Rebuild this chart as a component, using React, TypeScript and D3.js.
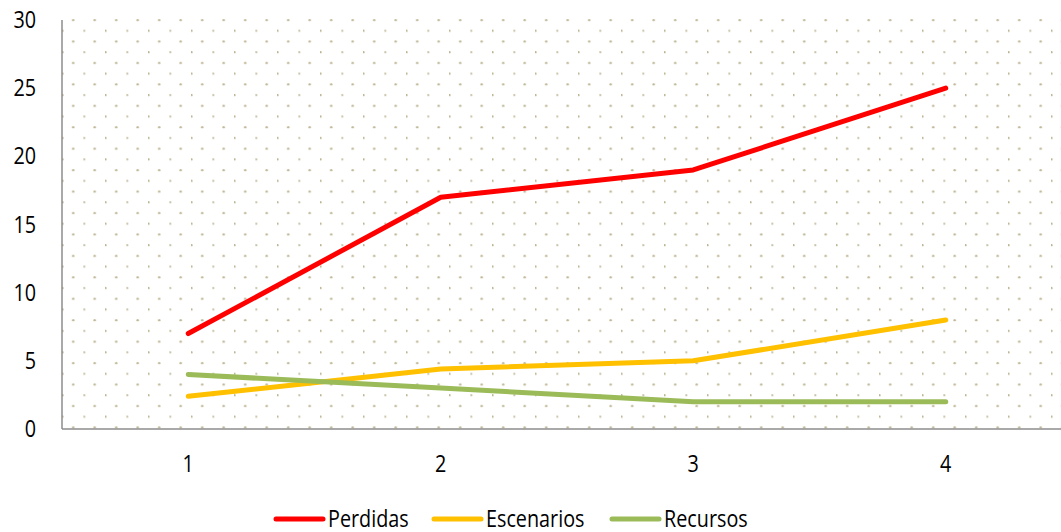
import React from "react";
import * as d3 from "d3";

const categories = ["1", "2", "3", "4"];
const perdidas = [7, 17, 19, 25];
const escenarios = [2.4, 4.4, 5, 8];
const recursos = [4, 3, 2, 2];
const yTicks = [0, 5, 10, 15, 20, 25, 30];
const seriesNames = ["Perdidas", "Escenarios", "Recursos"];
const seriesColors = ["#FF0000", "#FFC000", "#9BBB59"];

const font = "'Open Sans', sans-serif";
const FS = 23;
const SX = 0.86;

function Label(props: { x: number; y: number; anchor: string; children: React.ReactNode }) {
  const { x, y, anchor, children } = props;
  return (
    <text
      transform={`translate(${x},${y}) scale(${SX},1)`}
      dy="0.35em"
      textAnchor={anchor}
      fontFamily={font}
      fontSize={FS}
      fill="#000"
    >
      {children}
    </text>
  );
}

export default function App() {
  const W = 1061, H = 532;
  const left = 62, top = 20, bottom = 429, right = 1072;
  const x = d3.scaleBand().domain(categories).range([left, right]);
  const y = d3.scaleLinear().domain([0, 30]).range([bottom, top]);
  const line = d3
    .line<number>()
    .x((_, i) => (x(categories[i]) as number) + x.bandwidth() / 2)
    .y((d) => y(d));
  const series = [perdidas, escenarios, recursos];
  const legendX = [276, 434, 612];

  return (
    <svg width={W} height={H} style={{ position: "absolute", left: 0, top: 0, background: "#fff" }}>
      <defs>
        <pattern id="dots" x={62} y={15} width={21.5} height={21.44} patternUnits="userSpaceOnUse">
          <circle cx={11.2} cy={5} r={1.2} fill="#bdb592" />
          <circle cx={0.5} cy={15.72} r={1.2} fill="#bdb592" />
        </pattern>
      </defs>
      <rect x={left} y={top - 1} width={W - left} height={bottom - top + 1} fill="url(#dots)" />
      <line x1={left} x2={left} y1={top} y2={bottom} stroke="#8c8c8c" strokeWidth={1.5} />
      <line x1={left} x2={W} y1={bottom} y2={bottom} stroke="#8c8c8c" strokeWidth={1.5} />
      {yTicks.map((t) => (
        <Label key={t} x={36} y={y(t)} anchor="end">
          {t}
        </Label>
      ))}
      {categories.map((c) => (
        <Label key={c} x={(x(c) as number) + x.bandwidth() / 2} y={464} anchor="middle">
          {c}
        </Label>
      ))}
      {series.map((s, i) => (
        <path key={i} d={line(s) || ""} fill="none" stroke={seriesColors[i]} strokeWidth={5} strokeLinecap="round" strokeLinejoin="round" />
      ))}
      {seriesNames.map((n, i) => (
        <g key={n}>
          <line x1={legendX[i]} x2={legendX[i] + 47} y1={519} y2={519} stroke={seriesColors[i]} strokeWidth={5} strokeLinecap="round" />
          <Label x={legendX[i] + 52} y={519} anchor="start">
            {n}
          </Label>
        </g>
      ))}
    </svg>
  );
}
